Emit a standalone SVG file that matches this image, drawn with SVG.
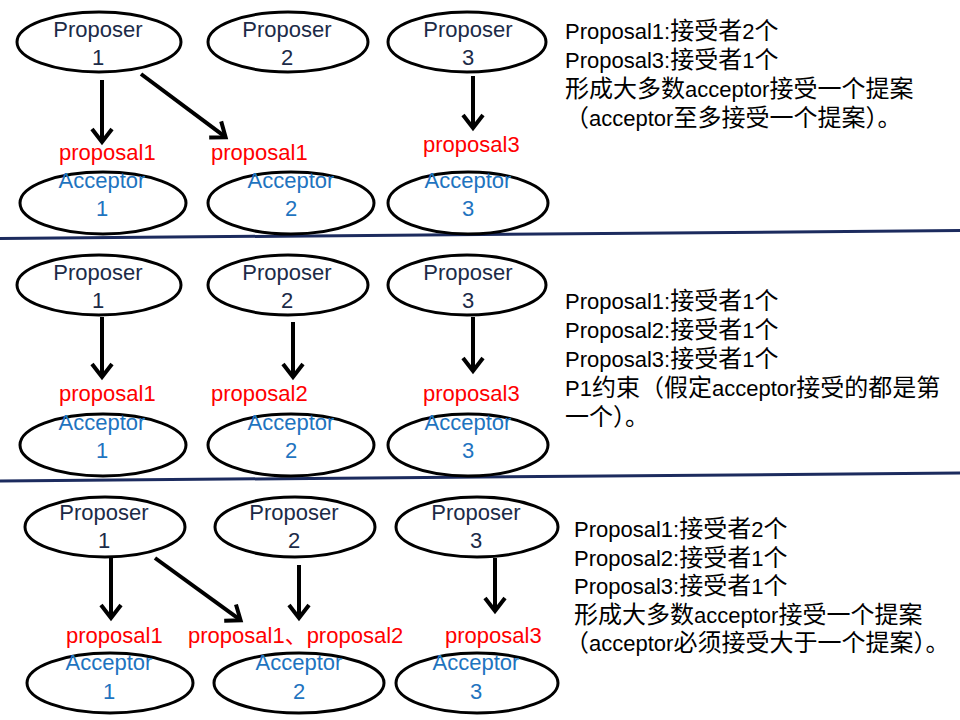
<svg xmlns="http://www.w3.org/2000/svg" width="960" height="720" viewBox="0 0 960 720">
<style>
.n ellipse{fill:#fff;stroke:#000;stroke-width:3}
.pt{font-family:"Liberation Sans",sans-serif;font-size:22px;fill:#1c2b48;text-anchor:middle}
.at{font-family:"Liberation Sans",sans-serif;font-size:22px;fill:#1f74c0;text-anchor:middle}
.red{font-family:"Liberation Sans","Noto Sans CJK SC",sans-serif;font-size:22px;fill:#ff0000}
.note{font-family:"Liberation Sans","Noto Sans CJK SC",sans-serif;font-size:24px;fill:#000}
.l{font-size:22px}
.arr{stroke:#000;stroke-width:4;fill:none;marker-end:url(#ah)}
.sep{stroke:#1c2b5e;stroke-width:3}
</style>
<defs>
<marker id="ah" markerUnits="userSpaceOnUse" markerWidth="30" markerHeight="30" viewBox="-20 -15 30 30" refX="0" refY="0" orient="auto" overflow="visible">
<path d="M-13,-10 L0,0 L-13,10" fill="none" stroke="#000" stroke-width="4" stroke-linejoin="miter"/>
</marker>
</defs>
<rect width="960" height="720" fill="#fff"/>

<line class="sep" x1="0" y1="238.5" x2="960" y2="230.5"/>
<line class="sep" x1="0" y1="481" x2="960" y2="473"/>

<!-- Section 1 -->
<g id="s1-p1" class="n"><ellipse cx="99" cy="42" rx="82" ry="30"/><text class="pt" x="98" y="37">Proposer</text><text class="pt" x="98" y="65">1</text></g>
<g id="s1-p2" class="n"><ellipse cx="288" cy="42" rx="80" ry="30"/><text class="pt" x="287" y="37">Proposer</text><text class="pt" x="287" y="65">2</text></g>
<g id="s1-p3" class="n"><ellipse cx="467" cy="42" rx="79" ry="30"/><text class="pt" x="468" y="37">Proposer</text><text class="pt" x="468" y="65">3</text></g>
<g id="s1-a1" class="n"><ellipse cx="103" cy="203" rx="83" ry="31"/><text class="at" x="102" y="188">Acceptor</text><text class="at" x="102" y="216">1</text></g>
<g id="s1-a2" class="n"><ellipse cx="291" cy="203" rx="83" ry="31"/><text class="at" x="291" y="188">Acceptor</text><text class="at" x="291" y="216">2</text></g>
<g id="s1-a3" class="n"><ellipse cx="468" cy="203" rx="80" ry="31"/><text class="at" x="468" y="188">Acceptor</text><text class="at" x="468" y="216">3</text></g>
<g id="s1-labels">
<text class="red" x="59" y="160">proposal1</text>
<text class="red" x="211" y="160">proposal1</text>
<text class="red" x="423" y="152">proposal3</text>
</g>
<g id="s1-note" class="note">
<text x="565" y="39"><tspan class="l">Proposal1:</tspan>接受者<tspan class="l">2</tspan>个</text>
<text x="565" y="68"><tspan class="l">Proposal3:</tspan>接受者<tspan class="l">1</tspan>个</text>
<text x="565" y="97">形成大多数<tspan class="l">acceptor</tspan>接受一个提案</text>
<text x="565" y="126">（<tspan class="l">acceptor</tspan>至多接受一个提案）。</text>
</g>

<!-- Section 2 -->
<g id="s2-p1" class="n"><ellipse cx="99" cy="285" rx="82" ry="30"/><text class="pt" x="98" y="280">Proposer</text><text class="pt" x="98" y="308">1</text></g>
<g id="s2-p2" class="n"><ellipse cx="288" cy="285" rx="80" ry="30"/><text class="pt" x="287" y="280">Proposer</text><text class="pt" x="287" y="308">2</text></g>
<g id="s2-p3" class="n"><ellipse cx="467" cy="285" rx="79" ry="30"/><text class="pt" x="468" y="280">Proposer</text><text class="pt" x="468" y="308">3</text></g>
<g id="s2-a1" class="n"><ellipse cx="103" cy="445" rx="83" ry="31"/><text class="at" x="102" y="430">Acceptor</text><text class="at" x="102" y="458">1</text></g>
<g id="s2-a2" class="n"><ellipse cx="291" cy="445" rx="83" ry="31"/><text class="at" x="291" y="430">Acceptor</text><text class="at" x="291" y="458">2</text></g>
<g id="s2-a3" class="n"><ellipse cx="468" cy="445" rx="80" ry="31"/><text class="at" x="468" y="430">Acceptor</text><text class="at" x="468" y="458">3</text></g>
<g id="s2-labels">
<text class="red" x="59" y="401">proposal1</text>
<text class="red" x="211" y="401">proposal2</text>
<text class="red" x="423" y="401">proposal3</text>
</g>
<g id="s2-note" class="note">
<text x="565" y="309"><tspan class="l">Proposal1:</tspan>接受者<tspan class="l">1</tspan>个</text>
<text x="565" y="338"><tspan class="l">Proposal2:</tspan>接受者<tspan class="l">1</tspan>个</text>
<text x="565" y="367"><tspan class="l">Proposal3:</tspan>接受者<tspan class="l">1</tspan>个</text>
<text x="565" y="396"><tspan class="l">P1</tspan>约束（假定<tspan class="l">acceptor</tspan>接受的都是第</text>
<text x="565" y="425">一个）。</text>
</g>

<!-- Section 3 -->
<g id="s3-p1" class="n"><ellipse cx="105" cy="527" rx="80" ry="30"/><text class="pt" x="104" y="520">Proposer</text><text class="pt" x="104" y="548">1</text></g>
<g id="s3-p2" class="n"><ellipse cx="295" cy="527" rx="80" ry="30"/><text class="pt" x="294" y="520">Proposer</text><text class="pt" x="294" y="548">2</text></g>
<g id="s3-p3" class="n"><ellipse cx="477" cy="527" rx="81" ry="30"/><text class="pt" x="476" y="520">Proposer</text><text class="pt" x="476" y="548">3</text></g>
<g id="s3-a1" class="n"><ellipse cx="110" cy="683" rx="83" ry="30"/><text class="at" x="109" y="670">Acceptor</text><text class="at" x="109" y="699">1</text></g>
<g id="s3-a2" class="n"><ellipse cx="299" cy="683" rx="85" ry="30"/><text class="at" x="299" y="670">Acceptor</text><text class="at" x="299" y="699">2</text></g>
<g id="s3-a3" class="n"><ellipse cx="477" cy="683" rx="81" ry="30"/><text class="at" x="476" y="670">Acceptor</text><text class="at" x="476" y="699">3</text></g>
<g id="s3-labels">
<text class="red" x="66" y="643">proposal1</text>
<text class="red" x="188" y="643">proposal1、proposal2</text>
<text class="red" x="445" y="643">proposal3</text>
</g>
<g id="s3-note" class="note">
<text x="574" y="537"><tspan class="l">Proposal1:</tspan>接受者<tspan class="l">2</tspan>个</text>
<text x="574" y="566"><tspan class="l">Proposal2:</tspan>接受者<tspan class="l">1</tspan>个</text>
<text x="574" y="594"><tspan class="l">Proposal3:</tspan>接受者<tspan class="l">1</tspan>个</text>
<text x="574" y="623">形成大多数<tspan class="l">acceptor</tspan>接受一个提案</text>
<text x="565" y="651">（<tspan class="l">acceptor</tspan>必须接受大于一个提案）。</text>
</g>

<g id="connectors">
<line class="arr" x1="102" y1="80" x2="102" y2="142"/>
<line class="arr" x1="141" y1="74" x2="225.6" y2="137.2"/>
<line class="arr" x1="473" y1="76" x2="473" y2="128"/>
<line class="arr" x1="102" y1="317" x2="102" y2="377"/>
<line class="arr" x1="293" y1="322" x2="293" y2="377"/>
<line class="arr" x1="473" y1="317" x2="473" y2="371"/>
<line class="arr" x1="111" y1="558" x2="111" y2="618"/>
<line class="arr" x1="155" y1="558" x2="240.6" y2="620.2"/>
<line class="arr" x1="299" y1="565" x2="299" y2="618"/>
<line class="arr" x1="495" y1="558" x2="495" y2="611"/>
</g>
</svg>
